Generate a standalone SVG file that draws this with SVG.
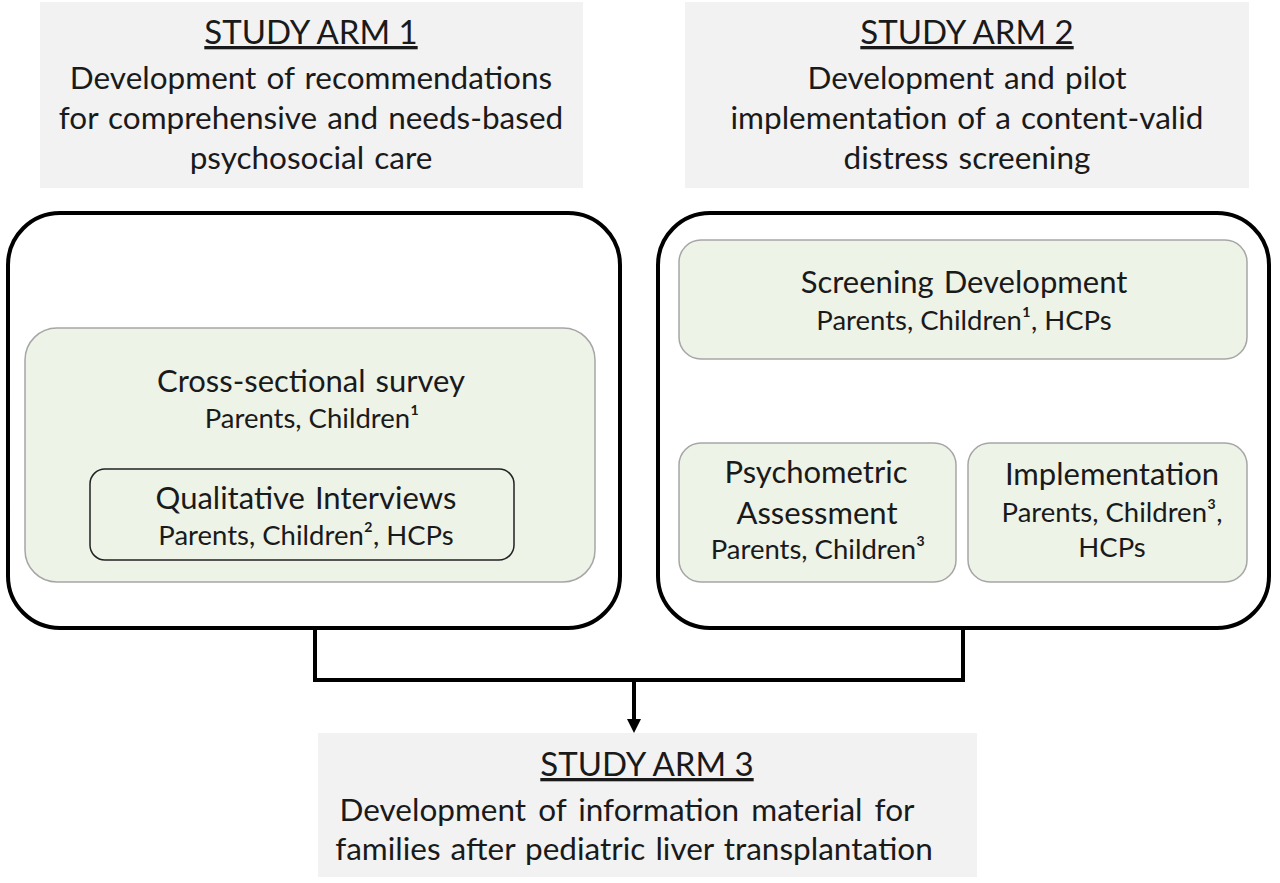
<svg xmlns="http://www.w3.org/2000/svg" width="1280" height="883" viewBox="0 0 1280 883">
<defs>
<style>
text{font-family:Lato,"Open Sans","Liberation Sans",sans-serif;fill:#1a1a1a;text-anchor:middle}
.hdr{fill:#f2f2f2}
.ht{font-size:33px;text-decoration:underline}
.hd{font-size:31.5px;word-spacing:2px}
.outer{fill:#fff;stroke:#000;stroke-width:4}
.grn{fill:#eef3e8;stroke:#a6a6a6;stroke-width:1.5}
.t1{font-size:31px;word-spacing:2px}
.t2{font-size:27.5px}
.conn{fill:none;stroke:#000;stroke-width:4}
</style>
<marker id="arr" viewBox="0 0 14 14" refX="1" refY="7" markerWidth="14" markerHeight="14" orient="auto" markerUnits="userSpaceOnUse"><path d="M0,0 L14,7 L0,14 z" fill="#000"/></marker>
</defs>
<rect width="1280" height="883" fill="#fff"/>
<g id="arm1">
<rect class="hdr" x="40" y="2" width="543" height="186"/>
<text class="ht" x="311" y="44">STUDY ARM 1</text>
<text class="hd" x="311" y="89">Development of recommendations</text>
<text class="hd" x="311" y="129">for comprehensive and needs-based</text>
<text class="hd" x="311" y="169">psychosocial care</text>
</g>
<g id="arm2">
<rect class="hdr" x="685" y="2" width="564" height="186"/>
<text class="ht" x="967" y="44">STUDY ARM 2</text>
<text class="hd" x="967" y="89">Development and pilot</text>
<text class="hd" x="967" y="129">implementation of a content-valid</text>
<text class="hd" x="967" y="169">distress screening</text>
</g>
<g id="arm3">
<rect class="hdr" x="318" y="733" width="659" height="144"/>
<text class="ht" x="647" y="776">STUDY ARM 3</text>
<text class="hd" x="627" y="821" style="word-spacing:4px">Development of information material for</text>
<text class="hd" x="634" y="860">families after pediatric liver transplantation</text>
</g>
<g id="box1">
<rect class="outer" x="8" y="213" width="612" height="415" rx="52"/>
</g>
<g id="survey">
<rect class="grn" x="25" y="328" width="570" height="254" rx="32"/>
<text class="t1" x="311" y="392">Cross-sectional survey</text>
<text class="t2" x="312" y="428">Parents, Children¹</text>
</g>
<g id="interviews">
<rect class="grn" x="90" y="469" width="424" height="91" rx="15" style="stroke:#222"/>
<text class="t1" x="306" y="509">Qualitative Interviews</text>
<text class="t2" x="306" y="545">Parents, Children², HCPs</text>
</g>
<g id="box2">
<rect class="outer" x="658" y="213" width="611" height="415" rx="52"/>
</g>
<g id="screening">
<rect class="grn" x="679" y="240" width="568" height="119" rx="22"/>
<text class="t1" x="964" y="293">Screening Development</text>
<text class="t2" x="964" y="330">Parents, Children¹, HCPs</text>
</g>
<g id="psychometric">
<rect class="grn" x="679" y="443" width="277" height="139" rx="22"/>
<text class="t1" x="816" y="483">Psychometric</text>
<text class="t1" x="817" y="524">Assessment</text>
<text class="t2" x="818" y="559">Parents, Children³</text>
</g>
<g id="implementation">
<rect class="grn" x="968" y="443" width="279" height="139" rx="22"/>
<text class="t1" x="1112" y="485">Implementation</text>
<text class="t2" x="1112" y="522">Parents, Children³,</text>
<text class="t2" x="1112" y="557">HCPs</text>
</g>
<g id="connectors">
<path class="conn" d="M315,628 V680 H963 V628"/>
<path class="conn" d="M634,680 V720" marker-end="url(#arr)"/>
</g>
</svg>
